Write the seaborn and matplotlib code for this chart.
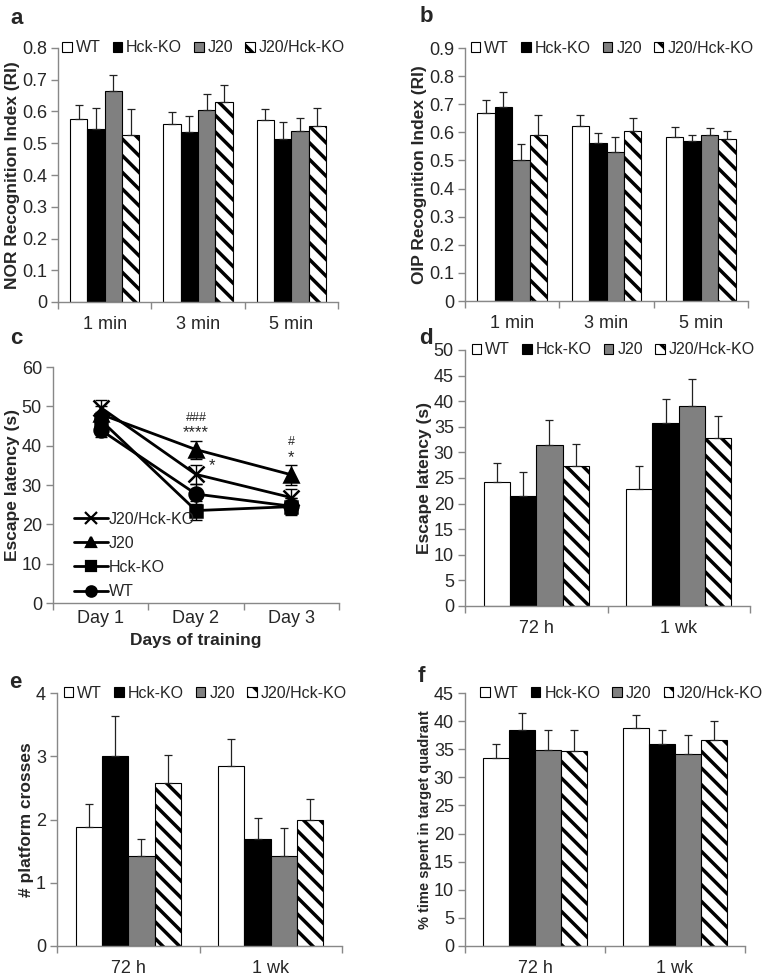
import numpy as np
import pandas as pd
import matplotlib
matplotlib.use("Agg")
import matplotlib.pyplot as plt
import seaborn as sns
from matplotlib.patches import Patch
from matplotlib.lines import Line2D

sns.set_style("ticks")
plt.rcParams["font.family"] = ["Liberation Sans", "DejaVu Sans"]
plt.rcParams["hatch.linewidth"] = 2.5
plt.rcParams["hatch.color"] = "black"

groups = ["WT", "Hck-KO", "J20", "J20/Hck-KO"]
fills = ["white", "black", "#808080", "white"]
hatches = [None, None, None, "\\\\"]

# a: NOR recognition index (rows follow groups)
min_cats = ["1 min", "3 min", "5 min"]
nor_mean = [[0.577, 0.560, 0.573], [0.545, 0.535, 0.514],
            [0.664, 0.604, 0.539], [0.527, 0.630, 0.555]]
nor_sem = [[0.044, 0.037, 0.034], [0.066, 0.052, 0.052],
           [0.052, 0.050, 0.041], [0.082, 0.053, 0.055]]

# b: OIP recognition index
oip_mean = [[0.669, 0.621, 0.584], [0.689, 0.563, 0.569],
            [0.501, 0.531, 0.589], [0.589, 0.604, 0.577]]
oip_sem = [[0.045, 0.042, 0.035], [0.056, 0.033, 0.023],
           [0.059, 0.052, 0.027], [0.072, 0.047, 0.027]]

# c: escape latency during training
days = ["Day 1", "Day 2", "Day 3"]
train_mean = [[44.0, 27.7, 24.6], [46.5, 23.5, 24.5],
              [48.0, 39.0, 32.6], [49.7, 32.7, 26.8]]
train_sem = [[1.8, 2.5, 2.0], [2.0, 2.4, 2.2],
             [2.0, 2.3, 2.6], [1.8, 2.4, 2.3]]

# d, e, f: probe trials
probe_cats = ["72 h", "1 wk"]
lat_mean = [[24.3, 22.9], [21.4, 35.7], [31.4, 39.0], [27.3, 32.8]]
lat_sem = [[3.7, 4.4], [4.8, 4.7], [4.9, 5.3], [4.4, 4.3]]
cross_mean = [[1.88, 2.84], [3.0, 1.69], [1.43, 1.43], [2.57, 2.0]]
cross_sem = [[0.36, 0.44], [0.64, 0.33], [0.26, 0.44], [0.45, 0.32]]
quad_mean = [[33.5, 38.8], [38.5, 35.9], [34.9, 34.1], [34.7, 36.7]]
quad_sem = [[2.4, 2.3], [2.9, 2.6], [3.5, 3.4], [3.7, 3.4]]

GRAY = "#888888"
TICK = 13
LEG = 11.5
LAB = 12.5


def style_axes(ax, ncat, ymax, ystep, fmt, xpad=10):
    sns.despine(ax=ax)
    for s in ("left", "bottom"):
        ax.spines[s].set_color(GRAY)
        ax.spines[s].set_linewidth(1)
    ax.set_xlim(-0.5, ncat - 0.5)
    ax.set_ylim(0, ymax)
    ticks = np.arange(0, ymax + ystep / 2, ystep)
    ax.set_yticks(ticks)
    ax.set_yticklabels([fmt(t) for t in ticks])
    ax.set_xticks(np.arange(-0.5, ncat, 1), minor=True)
    ax.tick_params(axis="x", which="major", length=0, labelsize=TICK, pad=xpad)
    ax.tick_params(axis="x", which="minor", length=5, color=GRAY, width=1)
    ax.tick_params(axis="y", length=5, color=GRAY, width=1, labelsize=TICK, pad=3)
    ax.set_xlabel("")


def bar_panel(ax, cats, means, sems, ymax, ystep, fmt, ylabel, ysize=LAB, leg_x=0.52):
    rows = []
    for g, m in zip(groups, means):
        for c, v in zip(cats, m):
            rows.append({"cat": c, "group": g, "val": v})
    df = pd.DataFrame(rows)
    sns.barplot(data=df, x="cat", y="val", hue="group", order=cats, hue_order=groups,
                palette=dict(zip(groups, fills)), saturation=1, width=0.74,
                edgecolor="black", linewidth=0.8, errorbar=None, legend=False, ax=ax)
    for cont, h, s in zip(ax.containers, hatches, sems):
        for bar, e in zip(cont, s):
            if h:
                bar.set_hatch(h)
            x = bar.get_x() + bar.get_width() / 2
            ax.errorbar(x, bar.get_height(), yerr=[[0], [e]], fmt="none",
                        ecolor="#222222", elinewidth=0.9, capsize=3, capthick=0.9)
    style_axes(ax, len(cats), ymax, ystep, fmt)
    ax.set_ylabel(ylabel, fontsize=ysize, fontweight="bold", labelpad=1)
    handles = [Patch(facecolor=f, edgecolor="black", hatch=h, linewidth=0.8)
               for f, h in zip(fills, hatches)]
    ax.legend(handles, groups, loc="center", bbox_to_anchor=(leg_x, 1.0), ncol=4,
              frameon=False, fontsize=LEG, handlelength=0.6, handleheight=0.6,
              handletextpad=0.25, columnspacing=0.75, borderpad=0)


fig = plt.figure(figsize=(7.65, 9.75), dpi=100)
W, H = 765, 975


def rect(l, t, r, b):
    return [l / W, 1 - b / H, (r - l) / W, (b - t) / H]


ax_a = fig.add_axes(rect(58, 48, 338, 302))
ax_b = fig.add_axes(rect(465, 48, 748, 301))
ax_c = fig.add_axes(rect(53, 367, 339, 603))
ax_d = fig.add_axes(rect(465, 350, 750, 606))
ax_e = fig.add_axes(rect(57, 693, 342, 946))
ax_f = fig.add_axes(rect(465, 693, 745, 946))

dec = lambda t: "0" if t == 0 else f"{t:.1f}"
intf = lambda t: f"{t:.0f}"

bar_panel(ax_a, min_cats, nor_mean, nor_sem, 0.8, 0.1, dec, "NOR Recognition Index (RI)")
bar_panel(ax_b, min_cats, oip_mean, oip_sem, 0.9, 0.1, dec, "OIP Recognition Index (RI)")
bar_panel(ax_d, probe_cats, lat_mean, lat_sem, 50, 5, intf, "Escape latency (s)")
bar_panel(ax_e, probe_cats, cross_mean, cross_sem, 4, 1, intf, "# platform crosses")
bar_panel(ax_f, probe_cats, quad_mean, quad_sem, 45, 5, intf,
          "% time spent in target quadrant", ysize=10.5, leg_x=0.56)

# c: training curves
rows = []
for g, m in zip(groups, train_mean):
    for d, v in zip(days, m):
        rows.append({"day": d, "group": g, "val": v})
dfc = pd.DataFrame(rows)
markers = ["o", "s", "^", "x"]
msizes = [10, 9, 10, 12]
sns.pointplot(data=dfc, x="day", y="val", hue="group", order=days, hue_order=groups,
              palette=dict(zip(groups, ["black"] * 4)), markers=markers,
              linestyles="-", errorbar=None, legend=False, ax=ax_c)
for line, ms in zip(ax_c.lines, msizes):
    line.set_linewidth(2)
    line.set_markersize(ms)
    line.set_markeredgewidth(1.8)
    line.set_markeredgecolor("black")
    line.set_markerfacecolor("black")
for m, s in zip(train_mean, train_sem):
    ax_c.errorbar(np.arange(len(days)), m, yerr=s, fmt="none", ecolor="black",
                  elinewidth=1, capsize=4, capthick=1)
style_axes(ax_c, len(days), 60, 10, intf, xpad=5)
ax_c.set_ylabel("Escape latency (s)", fontsize=LAB, fontweight="bold", labelpad=1)
ax_c.set_xlabel("Days of training", fontsize=LAB, fontweight="bold", labelpad=4)
hl = [Line2D([], [], color="black", lw=2, marker=mk, ms=ms * 0.75, mew=1.6)
      for mk, ms in zip(markers, msizes)]
order = [3, 2, 1, 0]
ax_c.legend([hl[i] for i in order], [groups[i] for i in order], loc="lower left",
            bbox_to_anchor=(0.04, -0.025), frameon=False, fontsize=LEG,
            handlelength=2.1, handletextpad=0.1, labelspacing=0.58, borderpad=0.1)
ax_c.text(1, 47.0, "###", ha="center", va="center", fontsize=9)
ax_c.text(1, 43.4, "****", ha="center", va="center", fontsize=12)
ax_c.text(1.17, 35.0, "*", ha="center", va="center", fontsize=12)
ax_c.text(2, 41.0, "#", ha="center", va="center", fontsize=9)
ax_c.text(2, 37.0, "*", ha="center", va="center", fontsize=12)

# panel letters
for lab, x, y in [("a", 17, 18), ("b", 426, 17), ("c", 16, 338),
                  ("d", 426, 338), ("e", 15, 683), ("f", 421, 676)]:
    fig.text(x / W, 1 - y / H, lab, fontsize=16, fontweight="bold",
             ha="center", va="center")

fig.savefig("out.png", dpi=100)
